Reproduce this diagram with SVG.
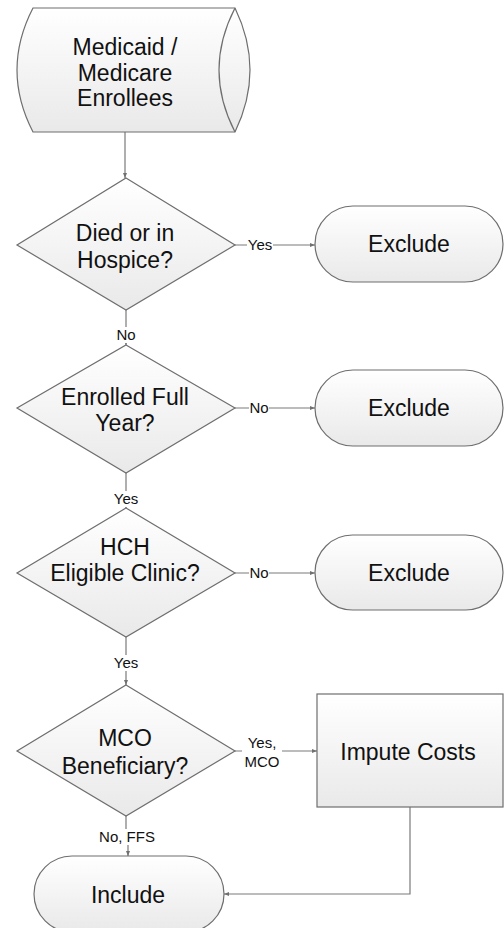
<svg xmlns="http://www.w3.org/2000/svg" width="504" height="928" viewBox="0 0 504 928">
<defs>
<linearGradient id="g" x1="0" y1="0" x2="0" y2="1">
<stop offset="0" stop-color="#ffffff"/>
<stop offset="1" stop-color="#e9e9e9"/>
</linearGradient>
<marker id="ah" markerWidth="6" markerHeight="6" refX="5" refY="3" orient="auto" markerUnits="userSpaceOnUse">
<path d="M0,1 L5,3 L0,5 Z" fill="#707070"/>
</marker>
<style>
.s{fill:url(#g);stroke:#6e6e6e;stroke-width:1.2}
.t{font-family:"Liberation Sans",Arial,sans-serif;font-size:23px;fill:#111;text-anchor:middle}
.l{font-family:"Liberation Sans",Arial,sans-serif;font-size:15px;fill:#111;text-anchor:middle}
.c{fill:none;stroke:#7a7a7a;stroke-width:1.2}
.bg{fill:#fff}
</style>
</defs>
<rect width="504" height="928" fill="#fff"/>

<g id="connectors">
<path class="c" d="M125,132 V178" marker-end="url(#ah)"/>
<path class="c" d="M235,245 H315" marker-end="url(#ah)"/>
<path class="c" d="M126,310 V345" marker-end="url(#ah)"/>
<path class="c" d="M235,408 H315" marker-end="url(#ah)"/>
<path class="c" d="M126,473 V508" marker-end="url(#ah)"/>
<path class="c" d="M235,573 H315" marker-end="url(#ah)"/>
<path class="c" d="M126,637 V685" marker-end="url(#ah)"/>
<path class="c" d="M235,751 H317" marker-end="url(#ah)"/>
<path class="c" d="M126,816 V830 H128 V856" marker-end="url(#ah)"/>
<path class="c" d="M410,807 V894 H224" marker-end="url(#ah)"/>
<rect class="bg" x="247" y="237" width="26" height="16"/>
<text class="l" x="260" y="250">Yes</text>
<rect class="bg" x="115" y="327" width="22" height="16"/>
<text class="l" x="126" y="340">No</text>
<rect class="bg" x="249" y="400" width="20" height="16"/>
<text class="l" x="259" y="413">No</text>
<rect class="bg" x="112" y="491" width="28" height="16"/>
<text class="l" x="126" y="504">Yes</text>
<rect class="bg" x="249" y="565" width="20" height="16"/>
<text class="l" x="259" y="578">No</text>
<rect class="bg" x="112" y="655" width="28" height="16"/>
<text class="l" x="126" y="668">Yes</text>
<rect class="bg" x="242" y="734" width="40" height="36"/>
<text class="l" x="262" y="748">Yes,</text>
<text class="l" x="262" y="767">MCO</text>
<rect class="bg" x="97" y="829" width="60" height="16"/>
<text class="l" x="127" y="842">No, FFS</text>
</g>

<g id="enrollees">
<path class="s" d="M33,8 H235 Q265,70 235,132 H33 Q1,70 33,8 Z"/>
<path class="s" d="M235,8 Q203,70 235,132" fill="none"/>
<text class="t" x="125" y="55">Medicaid /</text>
<text class="t" x="125" y="80.5">Medicare</text>
<text class="t" x="125" y="106">Enrollees</text>
</g>

<g id="d1">
<polygon class="s" points="126,178 235,245 126,310 17,245"/>
<text class="t" x="125" y="241">Died or in</text>
<text class="t" x="125" y="268">Hospice?</text>
</g>
<g id="e1">
<rect class="s" x="315" y="206" width="188" height="76" rx="38" ry="38"/>
<text class="t" x="409" y="252">Exclude</text>
</g>

<g id="d2">
<polygon class="s" points="126,345 235,408 126,473 17,408"/>
<text class="t" x="125" y="405">Enrolled Full</text>
<text class="t" x="125" y="431">Year?</text>
</g>
<g id="e2">
<rect class="s" x="315" y="370" width="188" height="76" rx="38" ry="38"/>
<text class="t" x="409" y="416">Exclude</text>
</g>

<g id="d3">
<polygon class="s" points="126,508 235,573 126,637 17,573"/>
<text class="t" x="125" y="555">HCH</text>
<text class="t" x="125" y="581">Eligible Clinic?</text>
</g>
<g id="e3">
<rect class="s" x="315" y="535" width="188" height="75" rx="37.5" ry="37.5"/>
<text class="t" x="409" y="581">Exclude</text>
</g>

<g id="d4">
<polygon class="s" points="126,685 235,751 126,816 17,751"/>
<text class="t" x="125" y="746">MCO</text>
<text class="t" x="125" y="774">Beneficiary?</text>
</g>
<g id="impute">
<rect class="s" x="317" y="694" width="186" height="113"/>
<text class="t" x="408" y="760">Impute Costs</text>
</g>

<g id="include">
<rect class="s" x="34" y="856" width="190" height="76" rx="38" ry="38"/>
<text class="t" x="128" y="903">Include</text>
</g>
</svg>
